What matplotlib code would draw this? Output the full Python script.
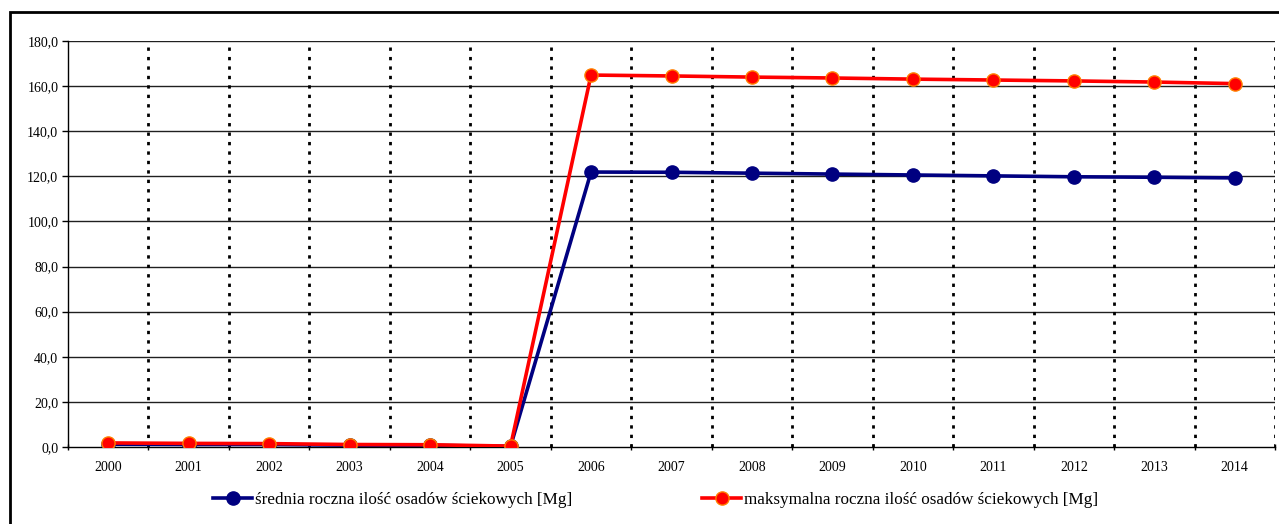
import matplotlib
matplotlib.use("Agg")
import matplotlib.pyplot as plt
from matplotlib.patches import Rectangle
from matplotlib.ticker import FixedLocator, FuncFormatter

years = ["2000", "2001", "2002", "2003", "2004", "2005", "2006", "2007",
         "2008", "2009", "2010", "2011", "2012", "2013", "2014"]
srednia = [1.2, 1.1, 1.1, 0.8, 0.7, 0.3, 121.9, 121.8, 121.4, 121.0,
           120.6, 120.2, 119.8, 119.6, 119.3]
maksymalna = [1.8, 1.6, 1.5, 1.1, 1.0, 0.4, 164.9, 164.5, 164.0, 163.6,
              163.1, 162.7, 162.3, 161.8, 161.1]
label_sr = "średnia roczna ilość osadów ściekowych [Mg]"
label_max = "maksymalna roczna ilość osadów ściekowych [Mg]"

plt.rcParams['font.family'] = ['Liberation Serif', 'DejaVu Serif']

fig = plt.figure(figsize=(12.79, 5.24), dpi=100)
W, H = 1279, 524
ax = fig.add_axes([68 / W, 1 - 447 / H, (1275 - 68) / W, (447 - 41) / H])

x = list(range(len(years)))

# grid
for v in range(20, 181, 20):
    ax.axhline(v, color='#202020', lw=1.0, zorder=1)
for i in range(len(years)):
    ax.axvline(i + 0.5, color='black', lw=2.0, ls=(0, (1.2, 2.2)), zorder=1)

ax.plot(x, srednia, color='#000080', lw=2.6, marker='o', ms=9.5,
        mfc='#000080', mec='#000080', zorder=3, label=label_sr)
ax.plot(x, maksymalna, color='#ff0000', lw=2.6, marker='o', ms=9.5,
        mfc='#ff0000', mec='#ff8000', mew=1.0, zorder=4, label=label_max)

ax.set_xlim(-0.5, len(years) - 0.5)
ax.set_ylim(0, 180)
ax.set_xticks(x)
ax.set_xticklabels(years, fontsize=10)
ax.xaxis.set_minor_locator(FixedLocator([i + 0.5 for i in range(-1, len(years))]))
ax.tick_params(axis='x', which='major', length=0, pad=10)
ax.tick_params(axis='x', which='minor', length=4, width=1, direction='inout')
ax.set_yticks(range(0, 181, 20))
ax.yaxis.set_major_formatter(FuncFormatter(lambda v, p: f"{v:.1f}".replace('.', ',')))
ax.tick_params(axis='y', length=4, width=1, labelsize=10, pad=3)

for s in ['top', 'right']:
    ax.spines[s].set_visible(False)
ax.spines['left'].set_linewidth(1.0)
ax.spines['bottom'].set_linewidth(1.0)

leg = fig.legend(loc='center', bbox_to_anchor=(655.5 / W, 1 - 500 / H), ncol=2,
                 frameon=False, fontsize=12.3, handlelength=2.3,
                 handletextpad=0.15, columnspacing=7.6, borderpad=0)

# outer chart border
fig.patches.append(Rectangle((10 / W, -0.05), 1.1, 1 - 12 / H + 0.05,
                             transform=fig.transFigure, fill=False,
                             edgecolor='black', lw=2.0))

fig.savefig("out.png", dpi=100)
